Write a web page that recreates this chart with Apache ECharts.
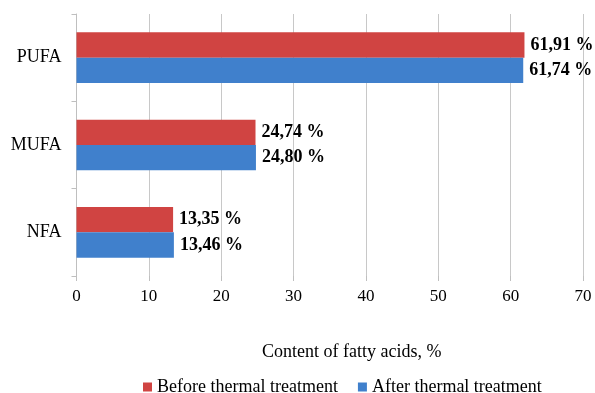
<!DOCTYPE html>
<html>
<head>
<meta charset="utf-8">
<script src="https://cdn.jsdelivr.net/npm/echarts@6/dist/echarts.min.js"></script>
<style>
  html, body { margin: 0; padding: 0; background: #fff; }
  #chart { width: 595px; height: 393px; }
</style>
</head>
<body>
<div id="chart"></div>
<script>
// Fatty acid groups, bottom to top
const categories = ['NFA', 'MUFA', 'PUFA'];
const beforeValues = [13.35, 24.74, 61.91];
const afterValues = [13.46, 24.80, 61.74];
const seriesNames = ['Before thermal treatment', 'After thermal treatment'];
const xTicks = { min: 0, max: 70, interval: 10 };
const axisTitle = 'Content of fatty acids, %';

const FONT = '"Liberation Serif", "Times New Roman", serif';
const fmt = p => p.value.toFixed(2).replace('.', ',') + ' %';

const labelStyle = {
  show: true,
  position: 'right',
  distance: 6,
  formatter: fmt,
  fontFamily: FONT,
  fontWeight: 'bold',
  fontSize: 18,
  color: '#000'
};

const chart = echarts.init(document.getElementById('chart'), null, { renderer: 'canvas' });
chart.setOption({
  animation: false,
  textStyle: { fontFamily: FONT },
  grid: { left: 76.5, right: 12, top: 14, bottom: 117, containLabel: false },
  legend: {
    data: seriesNames,
    bottom: -3,
    left: 143,
    padding: 0,
    itemWidth: 9,
    itemHeight: 9,
    itemGap: 20,
    icon: 'rect',
    textStyle: { fontFamily: FONT, fontSize: 18, color: '#000' }
  },
  xAxis: {
    type: 'value',
    min: xTicks.min,
    max: xTicks.max,
    interval: xTicks.interval,
    name: axisTitle,
    nameLocation: 'middle',
    nameGap: 67,
    nameTextStyle: { fontFamily: FONT, fontSize: 18, color: '#000', padding: [0, 0, 0, 44] },
    axisLine: { show: false },
    axisTick: { show: true, length: 5, lineStyle: { color: '#bfbfbf' } },
    axisLabel: { margin: 12, fontFamily: FONT, fontSize: 17, color: '#000' },
    splitLine: { show: true, lineStyle: { color: '#c8c8c8', width: 1 } }
  },
  yAxis: {
    type: 'category',
    data: categories,
    axisLine: { show: true, lineStyle: { color: '#bfbfbf' } },
    axisTick: { show: true, length: 5, alignWithLabel: false, lineStyle: { color: '#bfbfbf' } },
    axisLabel: { margin: 15, fontFamily: FONT, fontSize: 18, color: '#000' },
    splitLine: { show: false }
  },
  series: [
    {
      name: seriesNames[0],
      type: 'bar',
      data: beforeValues,
      barGap: '0%',
      barCategoryGap: '42%',
      itemStyle: { color: '#d04442' },
      label: labelStyle
    },
    {
      name: seriesNames[1],
      type: 'bar',
      data: afterValues,
      barGap: '0%',
      barCategoryGap: '42%',
      itemStyle: { color: '#4080cc' },
      label: labelStyle
    }
  ]
});
</script>
</body>
</html>
